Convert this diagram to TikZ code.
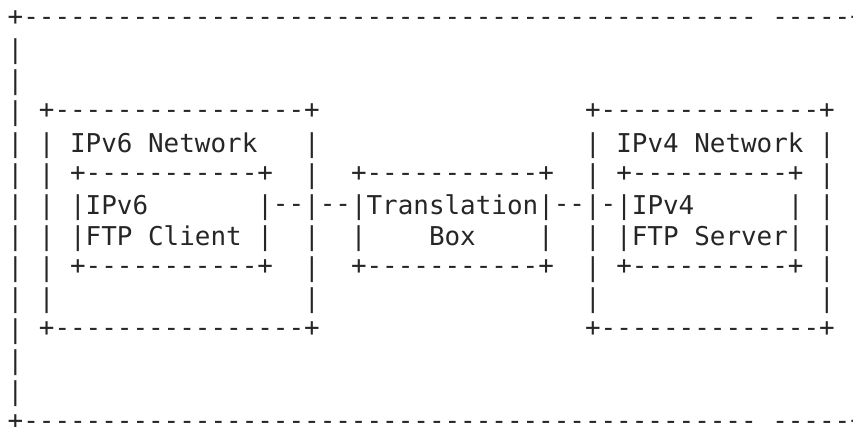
\documentclass[tikz,border=0pt]{standalone}
\usepackage{fontspec}
\newfontfamily\asciimono{DejaVu Sans Mono}
\ExplSyntaxOn
\cs_new:Npn \Rep #1#2 { \prg_replicate:nn {#1} {#2} }
\ExplSyntaxOff
\newcommand\dsh{\raisebox{1.5pt}{-}}
\newcommand\pls{\raisebox{1.5pt}{+}}
\newcommand\spc{\phantom{x}}
\definecolor{ink}{HTML}{262626}
\tikzset{
  asciirow/.style={anchor=base west, inner sep=0pt, outer sep=0pt, text=ink,
    font=\asciimono\fontsize{19.44pt}{23pt}\selectfont}
}
\begin{document}
\begin{tikzpicture}[x=0.75pt, y=-0.75pt]
\clip (0,0) rectangle (853,427);
\useasboundingbox (0,0) rectangle (853,427);
\def\xo{7.7}
\node[asciirow] (r0)  at (\xo, 27.7+31.08*0)  {\pls\Rep{47}{\dsh}\spc\Rep{5}{\dsh}\pls};
\node[asciirow] (r1)  at (\xo, 27.7+31.08*1)  {|};
\node[asciirow] (r2)  at (\xo, 27.7+31.08*2)  {|};
\node[asciirow] (r3)  at (\xo, 27.7+31.08*3)  {|\spc\pls\Rep{16}{\dsh}\pls\Rep{17}{\spc}\pls\Rep{14}{\dsh}\pls};
\node[asciirow] (r4)  at (\xo, 27.7+31.08*4)  {|\spc|\spc IPv6\spc Network\Rep{3}{\spc}|\Rep{17}{\spc}|\spc IPv4\spc Network\spc|};
\node[asciirow] (r5)  at (\xo, 27.7+31.08*5)  {|\spc|\spc\pls\Rep{11}{\dsh}\pls\Rep{2}{\spc}|\Rep{2}{\spc}\pls\Rep{11}{\dsh}\pls\Rep{2}{\spc}|\spc\pls\Rep{10}{\dsh}\pls\spc|};
\node[asciirow] (r6)  at (\xo, 27.7+31.08*6)  {|\spc|\spc|IPv6\Rep{7}{\spc}|\dsh\dsh|\dsh\dsh|Translation|\dsh\dsh|\dsh|IPv4\Rep{6}{\spc}|\spc|};
\node[asciirow] (r7)  at (\xo, 27.7+31.08*7)  {|\spc|\spc|FTP\spc Client\spc|\Rep{2}{\spc}|\Rep{2}{\spc}|\Rep{4}{\spc}Box\Rep{4}{\spc}|\Rep{2}{\spc}|\spc|FTP\spc Server|\spc|};
\node[asciirow] (r8)  at (\xo, 27.7+31.08*8)  {|\spc|\spc\pls\Rep{11}{\dsh}\pls\Rep{2}{\spc}|\Rep{2}{\spc}\pls\Rep{11}{\dsh}\pls\Rep{2}{\spc}|\spc\pls\Rep{10}{\dsh}\pls\spc|};
\node[asciirow] (r9)  at (\xo, 27.7+31.08*9)  {|\spc|\Rep{16}{\spc}|\Rep{17}{\spc}|\Rep{14}{\spc}|};
\node[asciirow] (r10) at (\xo, 27.7+31.08*10) {|\spc\pls\Rep{16}{\dsh}\pls\Rep{17}{\spc}\pls\Rep{14}{\dsh}\pls};
\node[asciirow] (r11) at (\xo, 27.7+31.08*11) {|};
\node[asciirow] (r12) at (\xo, 27.7+31.08*12) {|};
\node[asciirow] (r13) at (\xo, 27.7+31.08*13) {\pls\Rep{47}{\dsh}\spc\Rep{5}{\dsh}\pls};
\end{tikzpicture}
\end{document}
